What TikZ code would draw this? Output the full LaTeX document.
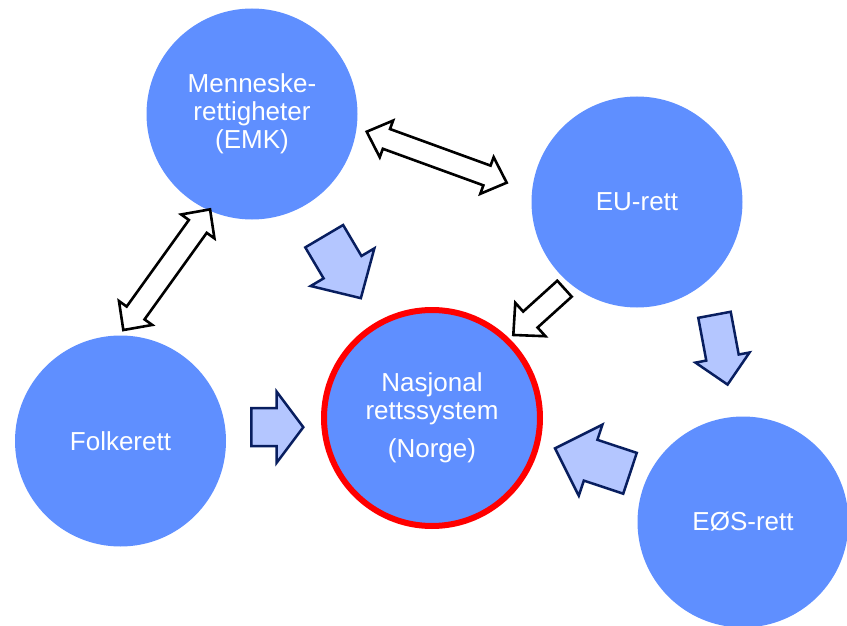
\documentclass[tikz,border=0pt]{standalone}
\usepackage{fontspec}
\setmainfont{Liberation Sans}
\definecolor{circblue}{RGB}{95,143,255}
\definecolor{arrfill}{RGB}{180,198,255}
\definecolor{arrline}{RGB}{8,30,95}
\definecolor{natred}{RGB}{255,0,0}
% #1 style, #2 x, #3 y (back middle), #4 angle, #5 length, #6 shaft width, #7 head width, #8 head length
\newcommand\blockarrow[8]{%
  \begin{scope}[shift={(#2,#3)},rotate=#4]
    \draw[#1] (0,{#6/2}) -- ({#5-#8},{#6/2}) -- ({#5-#8},{#7/2}) -- (#5,0)
      -- ({#5-#8},{-#7/2}) -- ({#5-#8},{-#6/2}) -- (0,{-#6/2}) -- cycle;
  \end{scope}}
% #1 style, #2 x, #3 y (centre), #4 angle, #5 length, #6 shaft width, #7 head width, #8 head length
\newcommand\dblarrow[8]{%
  \begin{scope}[shift={(#2,#3)},rotate=#4]
    \draw[#1] ({-#5/2},0) -- ({-#5/2+#8},{#7/2}) -- ({-#5/2+#8},{#6/2})
      -- ({#5/2-#8},{#6/2}) -- ({#5/2-#8},{#7/2}) -- ({#5/2},0)
      -- ({#5/2-#8},{-#7/2}) -- ({#5/2-#8},{-#6/2}) -- ({-#5/2+#8},{-#6/2})
      -- ({-#5/2+#8},{-#7/2}) -- cycle;
  \end{scope}}
\begin{document}
\begin{tikzpicture}[x=1pt,y=-1pt,
  law/.style={circle, fill=circblue, text=white, minimum size=211pt, inner sep=0pt,
    font=\fontsize{26}{28}\selectfont, align=center},
  inflow/.style={fill=arrfill, draw=arrline, line width=2.5pt, line join=miter},
  mutual/.style={fill=white, draw=black, line width=2.6pt, line join=miter}]
\useasboundingbox (0,0) rectangle (847,626);
\clip (0,0) rectangle (847,626);
\node[law] (emk) at (252,114) {Menneske-\\rettigheter\\(EMK)};
\node[law] (eu) at (637,202) {EU-rett};
\node[law] (folk) at (120.5,441) {Folkerett};
\node[law] (eos) at (743,522) {EØS-rett};
\node[law, draw=natred, line width=6pt, minimum size=216pt] (nat) at (432,418)
  {Nasjonal\\rettssystem\\[10pt](Norge)};
\blockarrow{inflow}{324.2}{236.2}{-59.4}{72}{44}{74}{36}
\blockarrow{mutual}{564.5}{288.7}{-137.9}{69}{21.5}{45}{23}
\blockarrow{inflow}{714.5}{314.8}{-79.4}{71}{33}{55}{27.5}
\blockarrow{inflow}{630}{473.3}{161.6}{79}{43}{75}{37.5}
\blockarrow{inflow}{251.3}{427.2}{0}{52}{38}{71}{26.6}
\dblarrow{mutual}{166.7}{269.7}{54.3}{148.6}{22}{41}{21}
\dblarrow{mutual}{436.7}{157.2}{-20}{149}{21}{39}{21}
\end{tikzpicture}
\end{document}
